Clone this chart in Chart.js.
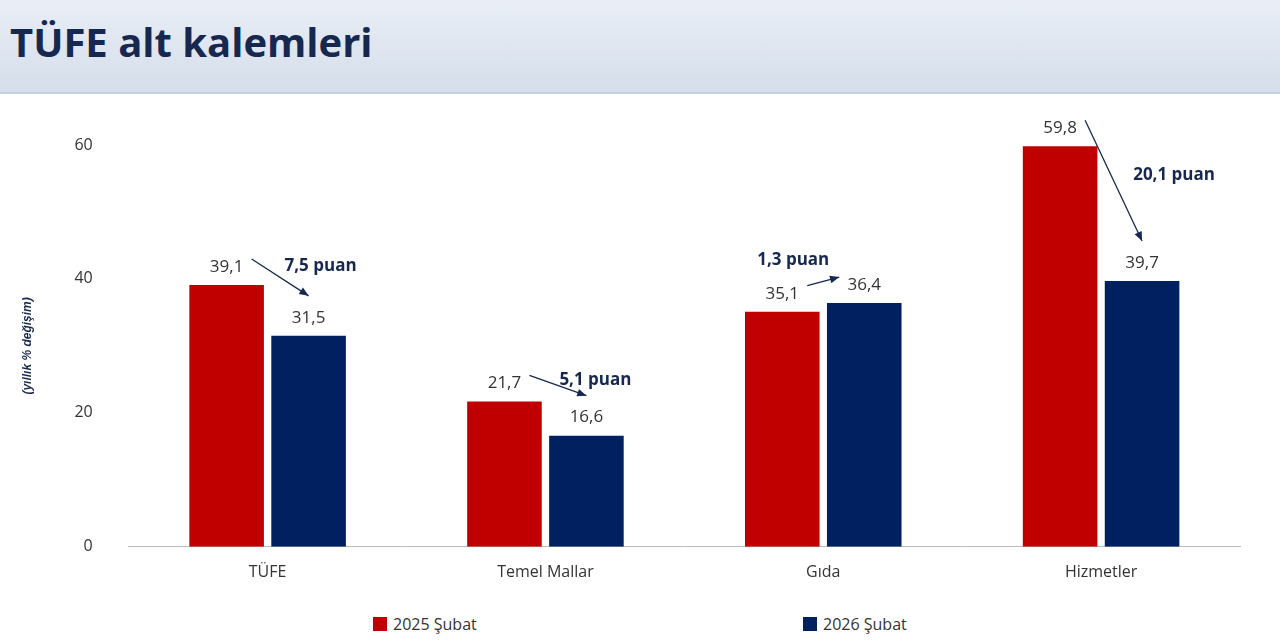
<!DOCTYPE html>
<html><head><meta charset="utf-8">
<script src="https://cdn.jsdelivr.net/npm/chart.js@4"></script>
<style>
body{margin:0;width:1280px;height:640px;background:#fff;font-family:"Open Sans",sans-serif;overflow:hidden}
#hdr{position:absolute;left:0;top:0;width:1280px;height:92px;background:linear-gradient(#e9eef6,#d5deeb);border-bottom:2px solid #c5cfdd}
#hdr h1{margin:0;position:absolute;left:10px;top:14px;font-size:40px;color:#16284f;font-weight:bold}
#wrap{position:absolute;left:0;top:100px;width:1280px;height:500px}
#leg{position:absolute;top:613px;left:0;width:1280px;height:24px;font-size:16px;color:#333}
#leg span{position:absolute;display:flex;align-items:center}
#leg i{display:inline-block;width:14px;height:14px;margin-right:6px}
</style></head><body>
<div id="hdr"><h1>TÜFE alt kalemleri</h1></div>
<div id="wrap"><canvas id="c" width="1280" height="500"></canvas></div>
<div id="leg"></div>
<script>
var categories = ['TÜFE', 'Temel Mallar', 'Gıda', 'Hizmetler'];
var feb2025 = [39.1, 21.7, 35.1, 59.8];
var feb2026 = [31.5, 16.6, 36.4, 39.7];
var puanLabels = ['7,5 puan', '5,1 puan', '1,3 puan', '20,1 puan'];
var yTicks = [0, 20, 40, 60];
// puan text offset relative to blue bar (x, top)
var puanOffsets = [[12, -70], [9, -55], [-71, -43], [32, -106]];
var legendX = [373, 803];

function fmt (v) { return v.toFixed(1).replace('.', ','); }

var annot = {
  id: 'annot',
  afterDatasetsDraw: function (chart) {
    var c = chart.ctx, m0 = chart.getDatasetMeta(0), m1 = chart.getDatasetMeta(1);
    c.save();
    c.font = '17px "Open Sans"';
    c.fillStyle = '#333';
    c.textAlign = 'center';
    c.textBaseline = 'middle';
    [m0, m1].forEach(function (m, di) {
      var d = di ? feb2026 : feb2025;
      m.data.forEach(function (b, i) { c.fillText(fmt(d[i]), b.x, b.y - 18); });
    });
    for (var i = 0; i < categories.length; i++) {
      var r = m0.data[i], b = m1.data[i], sx = r.x + 25, sy = r.y - 26, ex, ey;
      if (b.y < r.y) { ex = b.x - 25; ey = b.y - 26; } else { ex = b.x; ey = b.y - 40; }
      c.strokeStyle = '#16284f'; c.fillStyle = '#16284f'; c.lineWidth = 1.3;
      c.beginPath(); c.moveTo(sx, sy); c.lineTo(ex, ey); c.stroke();
      var a = Math.atan2(ey - sy, ex - sx);
      c.beginPath(); c.moveTo(ex, ey);
      c.lineTo(ex - 10 * Math.cos(a - 0.4), ey - 10 * Math.sin(a - 0.4));
      c.lineTo(ex - 10 * Math.cos(a + 0.4), ey - 10 * Math.sin(a + 0.4));
      c.closePath(); c.fill();
      c.font = 'bold 17px "Open Sans"';
      c.fillText(puanLabels[i], b.x + puanOffsets[i][0], b.y + puanOffsets[i][1]);
    }
    c.restore();
  }
};

var chart = new Chart(document.getElementById('c'), {
  type: 'bar',
  data: {
    labels: categories,
    datasets: [
      { label: '2025 Şubat', data: feb2025, backgroundColor: '#c00000' },
      { label: '2026 Şubat', data: feb2026, backgroundColor: '#002060' }
    ]
  },
  options: {
    responsive: false,
    animation: false,
    layout: { padding: { left: 0, right: 40, top: 45, bottom: 10 } },
    categoryPercentage: 0.59,
    barPercentage: 0.91,
    scales: {
      x: {
        grid: { display: false },
        border: { color: '#bbb' },
        ticks: { color: '#333', font: { size: 16, family: 'Open Sans' }, padding: 8 }
      },
      y: {
        min: 0, max: 60,
        afterBuildTicks: function (s) { s.ticks = yTicks.map(function (v) { return { value: v }; }); },
        grid: { display: false },
        border: { display: false },
        ticks: { color: '#333', font: { size: 16, family: 'Open Sans' }, padding: 28 },
        title: { display: true, text: '(yıllık % değişim)', color: '#16284f', padding: { top: 20, bottom: 12 }, font: { size: 12, style: 'italic', weight: 'bold' } }
      }
    },
    plugins: {
      legend: { display: false },
      tooltip: { enabled: false }
    }
  },
  plugins: [annot]
});

var leg = document.getElementById('leg');
chart.data.datasets.forEach(function (ds, i) {
  var s = document.createElement('span');
  s.style.left = legendX[i] + 'px';
  s.innerHTML = '<i style="background:' + ds.backgroundColor + '"></i>' + ds.label;
  leg.appendChild(s);
});
</script>
</body></html>
